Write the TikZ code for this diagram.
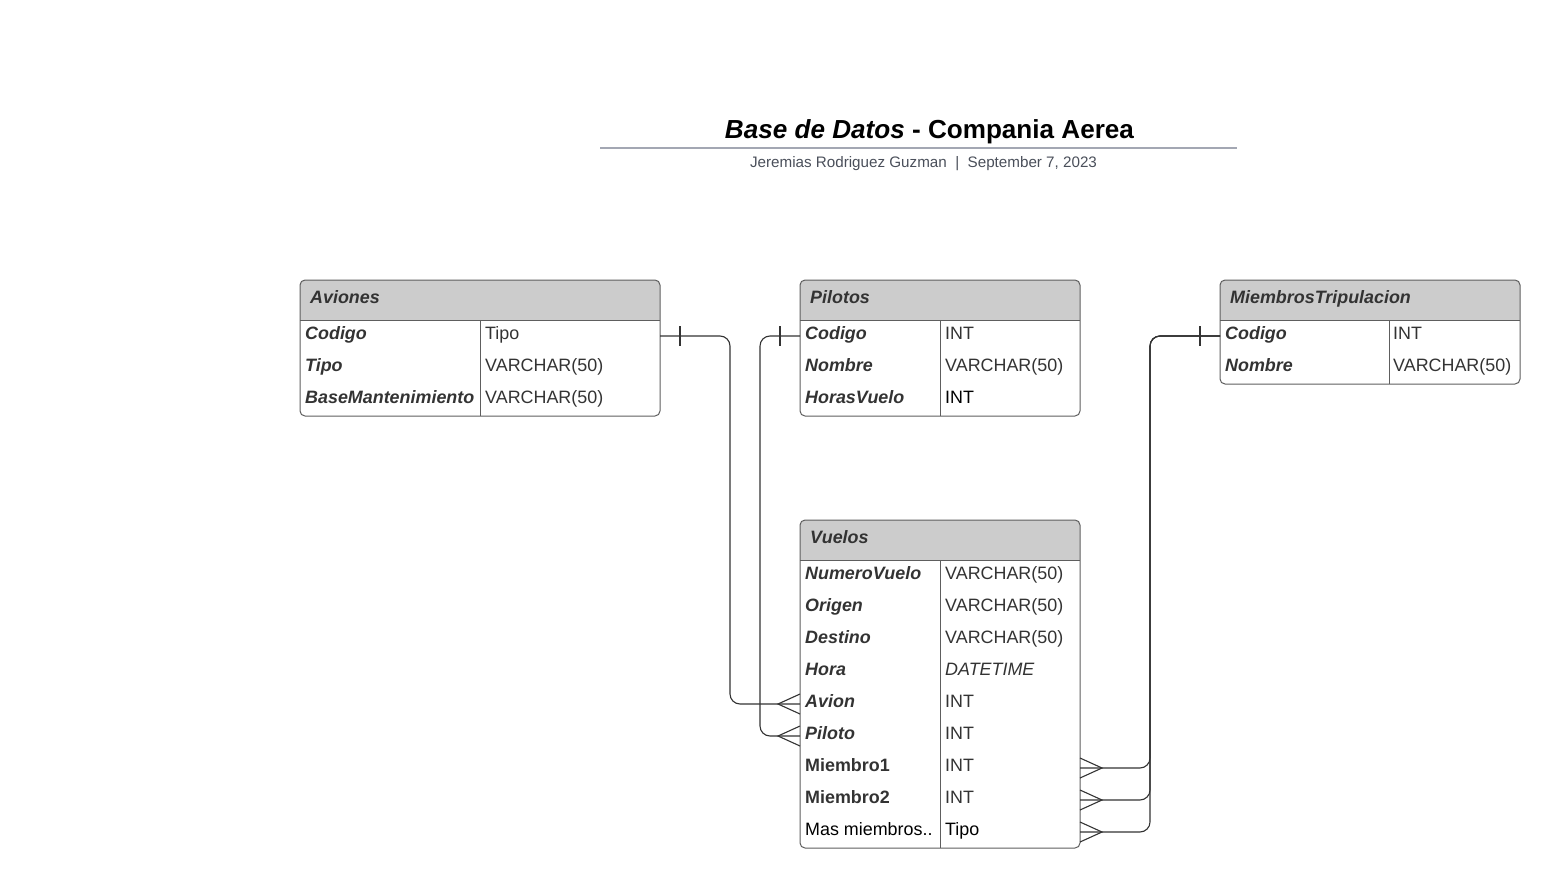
\documentclass[tikz,border=0pt]{standalone}
\usepackage{fontspec}
\setmainfont{Liberation Sans}
\usetikzlibrary{calc}
\definecolor{hdr}{HTML}{CCCCCC}
\definecolor{bord}{HTML}{5E5E5E}
\definecolor{txt}{HTML}{333333}
\definecolor{subc}{HTML}{4A4F5A}
\definecolor{rulec}{HTML}{A3A7B3}
\definecolor{connc}{HTML}{333333}
\newcommand\rowfont{\fontsize{17.9}{20}\selectfont}
\begin{document}
\begin{tikzpicture}[x=1pt,y=-1pt,
  tblshape/.style={rectangle, inner sep=0pt, outer sep=0pt, anchor=north west},
  tblborder/.style={draw=bord, line width=1pt, rounded corners=5pt},
  tblline/.style={draw=bord, line width=1pt},
  hname/.style={anchor=base west, inner sep=0pt, text=txt, font=\rowfont\bfseries\itshape},
  fname/.style={anchor=base west, inner sep=0pt, text=txt, font=\rowfont\bfseries\itshape},
  fbold/.style={anchor=base west, inner sep=0pt, text=txt, font=\rowfont\bfseries},
  ftype/.style={anchor=base west, inner sep=0pt, text=txt, font=\rowfont},
  fitype/.style={anchor=base west, inner sep=0pt, text=txt, font=\rowfont\itshape},
  fblack/.style={anchor=base west, inner sep=0pt, text=black, font=\rowfont},
  conn/.style={draw=connc, line width=1.1pt, rounded corners=10pt},
  endmark/.style={draw=connc, line width=1.1pt}
]
\useasboundingbox (0,0) rectangle (1560,888);

% ---------- Title ----------
\node[anchor=base, inner sep=0pt, font=\fontsize{26.1}{30}\selectfont\bfseries] (title) at (929.5,138.5)
  {\textit{Base de Datos} - Compania Aerea};
\coordinate (ruleL) at (600,148);
\coordinate (ruleR) at (1237,148);
\draw[rulec, line width=2pt] (ruleL) -- (ruleR);
\node[anchor=base, inner sep=0pt, text=subc, font=\fontsize{15.2}{18}\selectfont] (subtitle) at (923.5,167.5)
  {Jeremias Rodriguez Guzman\ \ |\ \ September 7, 2023};

% ---------- Aviones ----------
\path node[tblshape, minimum width=360pt, minimum height=136pt] (avi) at (300,280) {};
\begin{scope}
  \clip[rounded corners=5pt] (avi.north west) rectangle (avi.south east);
  \fill[hdr] (avi.north west) rectangle ($(avi.north east)+(0,40)$);
\end{scope}
\draw[tblline] ($(avi.north west)+(0,40)$) -- ($(avi.north east)+(0,40)$);
\draw[tblline] (480,320) -- (480,416);
\draw[tblborder] (avi.north west) rectangle (avi.south east);
\node[hname] (aviH) at (310,303) {Aviones};
\node[fname] (aviN1) at (305,339) {Codigo};
\node[fname] (aviN2) at (305,371) {Tipo};
\node[fname] (aviN3) at (305,403) {BaseMantenimiento};
\node[ftype] (aviT1) at (485,339) {Tipo};
\node[ftype] (aviT2) at (485,371) {VARCHAR(50)};
\node[ftype] (aviT3) at (485,403) {VARCHAR(50)};

% ---------- Pilotos ----------
\path node[tblshape, minimum width=280pt, minimum height=136pt] (pil) at (800,280) {};
\begin{scope}
  \clip[rounded corners=5pt] (pil.north west) rectangle (pil.south east);
  \fill[hdr] (pil.north west) rectangle ($(pil.north east)+(0,40)$);
\end{scope}
\draw[tblline] ($(pil.north west)+(0,40)$) -- ($(pil.north east)+(0,40)$);
\draw[tblline] (940,320) -- (940,416);
\draw[tblborder] (pil.north west) rectangle (pil.south east);
\node[hname] (pilH) at (810,303) {Pilotos};
\node[fname] (pilN1) at (805,339) {Codigo};
\node[fname] (pilN2) at (805,371) {Nombre};
\node[fname] (pilN3) at (805,403) {HorasVuelo};
\node[ftype] (pilT1) at (945,339) {INT};
\node[ftype] (pilT2) at (945,371) {VARCHAR(50)};
\node[fblack] (pilT3) at (945,403) {INT};

% ---------- MiembrosTripulacion ----------
\path node[tblshape, minimum width=300pt, minimum height=104pt] (mie) at (1220,280) {};
\begin{scope}
  \clip[rounded corners=5pt] (mie.north west) rectangle (mie.south east);
  \fill[hdr] (mie.north west) rectangle ($(mie.north east)+(0,40)$);
\end{scope}
\draw[tblline] ($(mie.north west)+(0,40)$) -- ($(mie.north east)+(0,40)$);
\draw[tblline] (1389,320) -- (1389,384);
\draw[tblborder] (mie.north west) rectangle (mie.south east);
\node[hname] (mieH) at (1230,303) {MiembrosTripulacion};
\node[fname] (mieN1) at (1225,339) {Codigo};
\node[fname] (mieN2) at (1225,371) {Nombre};
\node[ftype] (mieT1) at (1393,339) {INT};
\node[ftype] (mieT2) at (1393,371) {VARCHAR(50)};

% ---------- Vuelos ----------
\path node[tblshape, minimum width=280pt, minimum height=328pt] (vue) at (800,520) {};
\begin{scope}
  \clip[rounded corners=5pt] (vue.north west) rectangle (vue.south east);
  \fill[hdr] (vue.north west) rectangle ($(vue.north east)+(0,40)$);
\end{scope}
\draw[tblline] ($(vue.north west)+(0,40)$) -- ($(vue.north east)+(0,40)$);
\draw[tblline] (940,560) -- (940,848);
\draw[tblborder] (vue.north west) rectangle (vue.south east);
\node[hname] (vueH) at (810,543) {Vuelos};
\node[fname] (vueN1) at (805,579) {NumeroVuelo};
\node[fname] (vueN2) at (805,611) {Origen};
\node[fname] (vueN3) at (805,643) {Destino};
\node[fname] (vueN4) at (805,675) {Hora};
\node[fname] (vueN5) at (805,707) {Avion};
\node[fname] (vueN6) at (805,739) {Piloto};
\node[fbold] (vueN7) at (805,771) {Miembro1};
\node[fbold] (vueN8) at (805,803) {Miembro2};
\node[fblack] (vueN9) at (805,835) {Mas miembros..};
\node[ftype] (vueT1) at (945,579) {VARCHAR(50)};
\node[ftype] (vueT2) at (945,611) {VARCHAR(50)};
\node[ftype] (vueT3) at (945,643) {VARCHAR(50)};
\node[fitype] (vueT4) at (945,675) {DATETIME};
\node[ftype] (vueT5) at (945,707) {INT};
\node[ftype] (vueT6) at (945,739) {INT};
\node[ftype] (vueT7) at (945,771) {INT};
\node[ftype] (vueT8) at (945,803) {INT};
\node[fblack] (vueT9) at (945,835) {Tipo};

% ---------- connector end points ----------
\coordinate (aviCod) at (660,336);
\coordinate (pilCod) at (800,336);
\coordinate (mieCod) at (1220,336);
\coordinate (vueAvion) at (800,704);
\coordinate (vuePiloto) at (800,736);
\coordinate (vueM1) at (1080,768);
\coordinate (vueM2) at (1080,800);
\coordinate (vueM3) at (1080,832);

% ---------- connectors ----------
\draw[conn] (aviCod) -- ++(70,0) |- (vueAvion);
\draw[conn] (pilCod) -- ++(-40,0) |- (vuePiloto);
\draw[conn] (mieCod) -- ++(-70,0) |- (vueM1);
\draw[conn] (mieCod) -- ++(-70,0) |- (vueM2);
\draw[conn] (mieCod) -- ++(-70,0) |- (vueM3);

% one marks
\draw[endmark] ($(aviCod)+(20,-10)$) -- ($(aviCod)+(20,10)$);
\draw[endmark] ($(pilCod)+(-20,-10)$) -- ($(pilCod)+(-20,10)$);
\draw[endmark] ($(mieCod)+(-20,-10)$) -- ($(mieCod)+(-20,10)$);

% crow's feet (many)
\foreach \p in {vueAvion,vuePiloto}{
  \draw[endmark] ($(\p)+(0,-10)$) -- ($(\p)+(-22,0)$) -- ($(\p)+(0,10)$);
}
\foreach \p in {vueM1,vueM2,vueM3}{
  \draw[endmark] ($(\p)+(0,-10)$) -- ($(\p)+(22,0)$) -- ($(\p)+(0,10)$);
}
\end{tikzpicture}
\end{document}
